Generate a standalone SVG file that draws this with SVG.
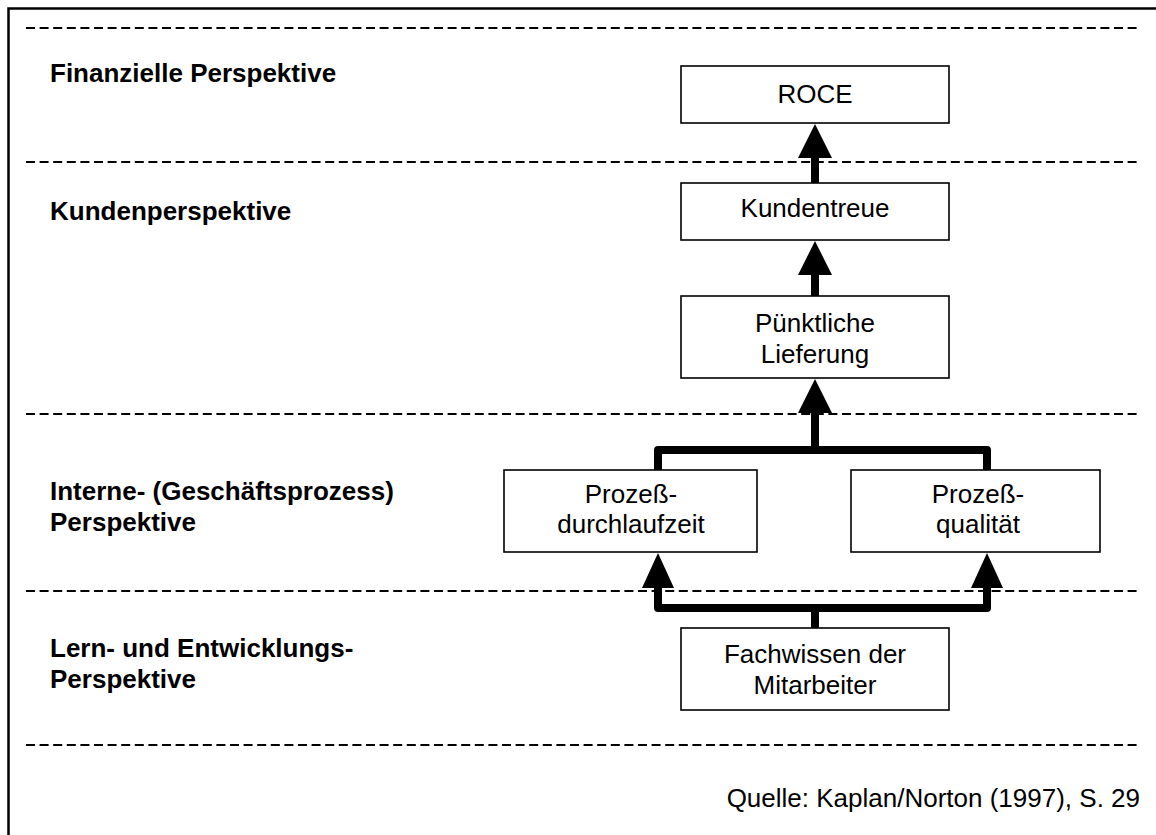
<svg xmlns="http://www.w3.org/2000/svg" width="1156" height="835" viewBox="0 0 1156 835">
  <style>
    .frame { fill: none; stroke: #000; stroke-width: 2.5; }
    .sep { fill: none; stroke: #000; stroke-width: 2; stroke-dasharray: 9 4.6; }
    .box { fill: #fff; stroke: #000; stroke-width: 1.6; }
    .lbl { font-family: "Liberation Sans", Arial, sans-serif; font-size: 26px; fill: #000; text-anchor: middle; }
    .head { font-family: "Liberation Sans", Arial, sans-serif; font-size: 26px; font-weight: bold; fill: #000; }
    .src { font-family: "Liberation Sans", Arial, sans-serif; font-size: 26px; fill: #000; text-anchor: end; }
    .stem { fill: none; stroke: #000; stroke-width: 8; stroke-linecap: round; stroke-linejoin: round; }
    .tip { fill: #000; }
  </style>
  <rect width="1156" height="835" fill="#fff"/>
  <rect class="frame" x="8.5" y="8.5" width="1200" height="900"/>

  <!-- perspective separators -->
  <g id="separators">
    <line class="sep" x1="26" y1="28" x2="1141" y2="28"/>
    <line class="sep" x1="26" y1="162" x2="1141" y2="162"/>
    <line class="sep" x1="26" y1="414" x2="1141" y2="414"/>
    <line class="sep" x1="26" y1="591" x2="1141" y2="591"/>
    <line class="sep" x1="26" y1="745" x2="1141" y2="745"/>
  </g>

  <!-- perspective headings -->
  <g id="headings">
    <text class="head" x="50" y="82">Finanzielle Perspektive</text>
    <text class="head" x="50" y="220">Kundenperspektive</text>
    <text class="head" x="50" y="500">Interne- (Geschäftsprozess)</text>
    <text class="head" x="50" y="531">Perspektive</text>
    <text class="head" x="50" y="657">Lern- und Entwicklungs-</text>
    <text class="head" x="50" y="688">Perspektive</text>
  </g>

  <!-- connectors -->
  <g id="connectors">
    <line class="stem" x1="815" y1="183" x2="815" y2="150"/>
    <polygon class="tip" points="815,124 798,158 832,158"/>
    <line class="stem" x1="815" y1="296" x2="815" y2="267"/>
    <polygon class="tip" points="815,241 798,275 832,275"/>
    <path class="stem" d="M658,470 L658,450 L987,450 L987,470 M815,450 L815,405"/>
    <polygon class="tip" points="815,379 798,413 832,413"/>
    <path class="stem" d="M815,628 L815,608 M658,580 L658,608 L987,608 L987,580"/>
    <polygon class="tip" points="658,553 642,588 674,588"/>
    <polygon class="tip" points="987,553 971,588 1003,588"/>
  </g>

  <g id="roce">
    <rect class="box" x="681" y="66" width="268" height="57"/>
    <text class="lbl" x="815" y="103">ROCE</text>
  </g>
  <g id="kundentreue">
    <rect class="box" x="681" y="183" width="268" height="57"/>
    <text class="lbl" x="815" y="217">Kundentreue</text>
  </g>
  <g id="lieferung">
    <rect class="box" x="681" y="296" width="268" height="82"/>
    <text class="lbl" x="815" y="332">Pünktliche</text>
    <text class="lbl" x="815" y="363">Lieferung</text>
  </g>
  <g id="durchlaufzeit">
    <rect class="box" x="504" y="470" width="253" height="82"/>
    <text class="lbl" x="631" y="503">Prozeß-</text>
    <text class="lbl" x="631" y="533">durchlaufzeit</text>
  </g>
  <g id="qualitaet">
    <rect class="box" x="851" y="470" width="249" height="82"/>
    <text class="lbl" x="978" y="503">Prozeß-</text>
    <text class="lbl" x="978" y="533">qualität</text>
  </g>
  <g id="fachwissen">
    <rect class="box" x="681" y="628" width="268" height="82"/>
    <text class="lbl" x="815" y="663">Fachwissen der</text>
    <text class="lbl" x="815" y="694">Mitarbeiter</text>
  </g>

  <text id="quelle" class="src" x="1140" y="807">Quelle: Kaplan/Norton (1997), S. 29</text>
</svg>
